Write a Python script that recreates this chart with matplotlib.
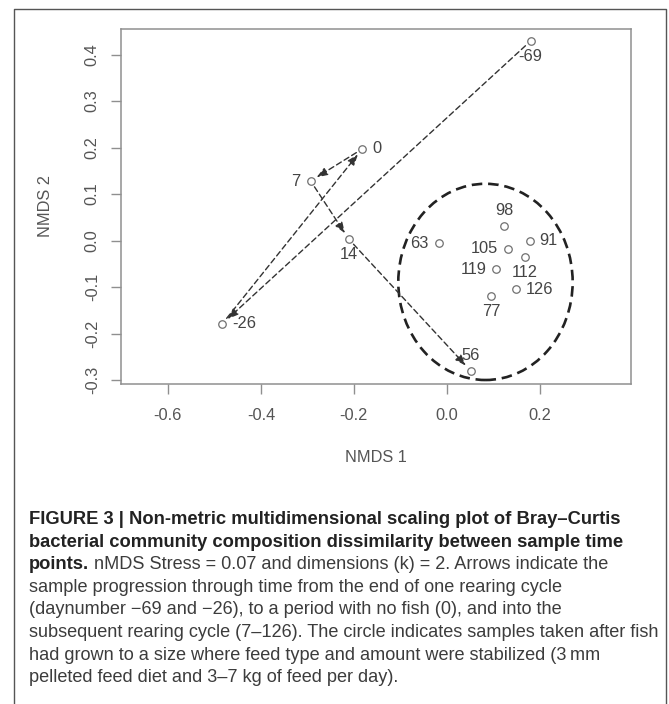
import matplotlib
matplotlib.use('Agg')
import matplotlib.pyplot as plt
from matplotlib.patches import Ellipse
from matplotlib.lines import Line2D

plt.rcParams['font.family'] = ['Liberation Sans', 'DejaVu Sans']

# sample day numbers and their nMDS scores
days = ['-69', '-26', '0', '7', '14', '56', '63', '77', '91', '98', '105', '112', '119', '126']
nmds1 = [0.180, -0.483, -0.182, -0.293, -0.211, 0.051, -0.017, 0.095, 0.178, 0.123, 0.132, 0.168, 0.106, 0.148]
nmds2 = [0.429, -0.179, 0.197, 0.128, 0.003, -0.280, -0.006, -0.120, -0.001, 0.032, -0.018, -0.035, -0.062, -0.105]

# order the arrows follow through time
path_days = ['-69', '-26', '0', '7', '14', '56']

# circle round the stabilized-feed samples: centre and half widths
circle_centre = (0.083, -0.089)
circle_half = (0.1875, 0.211)

xticks = [-0.6, -0.4, -0.2, 0.0, 0.2]
xtick_labels = ['-0.6', '-0.4', '-0.2', '0.0', '0.2']
yticks = [-0.3, -0.2, -0.1, 0.0, 0.1, 0.2, 0.3, 0.4]
ytick_labels = ['-0.3', '-0.2', '-0.1', '0.0', '0.1', '0.2', '0.3', '0.4']

caption_bold = ['FIGURE 3 | Non-metric multidimensional scaling plot of Bray\u2013Curtis',
                'bacterial community composition dissimilarity between sample time']
caption_l3 = ('points.', 'nMDS Stress = 0.07 and dimensions (k) = 2. Arrows indicate the')
caption_rest = ['sample progression through time from the end of one rearing cycle',
                '(daynumber \u221269 and \u221226), to a period with no fish (0), and into the',
                'subsequent rearing cycle (7\u2013126). The circle indicates samples taken after fish',
                'had grown to a size where feed type and amount were stabilized (3\u2009mm',
                'pelleted feed diet and 3\u20137 kg of feed per day).']

# where each point label sits
label_side = {'-69': 'below', '-26': 'right', '0': 'right', '7': 'left', '14': 'below',
              '56': 'above', '63': 'left', '77': 'below', '91': 'right', '98': 'above',
              '105': 'left', '112': 'below', '119': 'left', '126': 'right'}

W, H = 669, 704
fig = plt.figure(figsize=(W / 100, H / 100), dpi=100)
fig.patch.set_facecolor('white')

# plot box in pixels: left 120.5, right 631, top 28.5, bottom 384.2
ax = fig.add_axes([120.5 / W, 1 - 384.2 / H, (631 - 120.5) / W, (384.2 - 28.5) / H])
ax.set_xlim(-0.702, 0.396)
ax.set_ylim(-0.309, 0.456)

grey = '#8f8f8f'
for s in ax.spines.values():
    s.set_color(grey)
    s.set_linewidth(1.1)

ax.set_xticks(xticks)
ax.set_xticklabels(xtick_labels)
ax.set_yticks(yticks)
ax.set_yticklabels(ytick_labels, rotation=90, va='center')
ax.tick_params(direction='out', length=7.2, width=1.0, color=grey, labelsize=11.8,
               labelcolor='#555555')
ax.tick_params(axis='x', pad=9.9)
ax.tick_params(axis='y', pad=7.7)

ax.set_xlabel('NMDS 1', fontsize=11.8, color='#555555')
ax.set_ylabel('NMDS 2', fontsize=11.8, color='#555555')
ax.xaxis.label.set_va('center')
ax.yaxis.label.set_va('center')
ax.xaxis.set_label_coords(0.5, (384.2 - 457.3) / (384.2 - 28.5))
ax.yaxis.set_label_coords((45 - 120.5) / (631 - 120.5), 0.5)

# circle of stabilized samples
ax.add_patch(Ellipse(circle_centre, 2 * circle_half[0], 2 * circle_half[1], fill=False,
                     edgecolor='#222222', lw=1.9, linestyle=(0, (4, 2.2))))

# arrows through time
pos = {d: (x, y) for d, x, y in zip(days, nmds1, nmds2)}
for a, b in zip(path_days[:-1], path_days[1:]):
    ax.annotate('', xy=pos[b], xytext=pos[a],
                arrowprops=dict(arrowstyle='-|>,head_length=0.65,head_width=0.24',
                                color='#333333', lw=1.0, linestyle=(0, (4, 2.4)),
                                shrinkA=5, shrinkB=5))

ax.plot(nmds1, nmds2, 'o', ms=5.4, mfc='white', mec='#707070', mew=0.9, zorder=5)

offsets = {'right': ((10, 0), 'left'), 'left': ((-10, 0), 'right'),
           'below': ((0, -15.5), 'center'), 'above': ((0, 15.5), 'center')}
for d, x, y in zip(days, nmds1, nmds2):
    off, ha = offsets[label_side[d]]
    ax.annotate(d, (x, y), xytext=off, textcoords='offset pixels', ha=ha, va='center',
                fontsize=11.8, color='#444444')

# outer frame of the figure panel
fig.add_artist(Line2D([14 / W, 14 / W, 666 / W, 666 / W], [0, 1 - 8.5 / H, 1 - 8.5 / H, 0],
                      transform=fig.transFigure, color='#555555', lw=1.0))

# caption, sized so the lines fill the same width as in the source
r = fig.canvas.get_renderer()


def width_px(s, **kw):
    t = fig.text(0, 0, s, **kw)
    w = t.get_window_extent(r).width
    t.remove()
    return w


bold_size = 11 * 599 / width_px(caption_bold[1], fontsize=11, weight='bold')
reg_size = 11 * 629 / width_px(caption_rest[2], fontsize=11)

x0 = 29.3 / W
base0, step = 524.0, 22.6
lines_y = [1 - (base0 + i * step) / H for i in range(8)]
for i, s in enumerate(caption_bold):
    fig.text(x0, lines_y[i], s, fontsize=bold_size, weight='bold', color='#222222', va='baseline')

tb = fig.text(x0, lines_y[2], caption_l3[0], fontsize=bold_size, weight='bold',
              color='#222222', va='baseline')
bw = tb.get_window_extent(r).width
fig.text(x0 + (bw + 0.28 * reg_size * 100 / 72) / W, lines_y[2], caption_l3[1],
         fontsize=reg_size, color='#3c3c3c', va='baseline')
for i, s in enumerate(caption_rest):
    fig.text(x0, lines_y[3 + i], s, fontsize=reg_size, color='#3c3c3c', va='baseline')

fig.savefig('out.png', dpi=100, facecolor='white')
